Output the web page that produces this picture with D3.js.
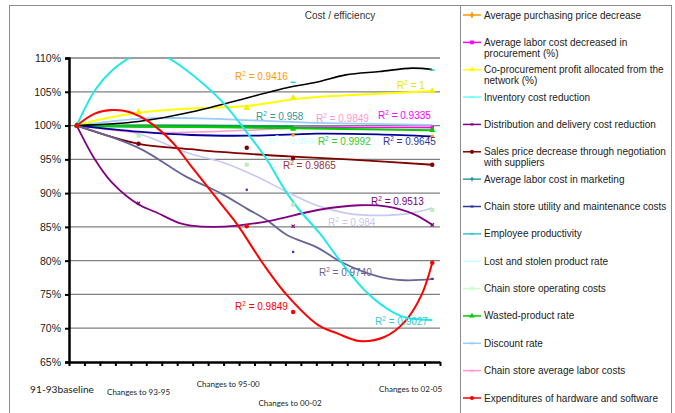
<!DOCTYPE html>
<html><head><meta charset="utf-8">
<script src="https://cdn.jsdelivr.net/npm/d3@7"></script>
<style>body{margin:0;background:#fff}svg{display:block}</style>
</head><body>
<svg id="c" width="675" height="413"></svg>
<script>
// ---------- data ----------
const yTicks = [65,70,75,80,85,90,95,100,105,110];
const xLabels = ["91-93baseline","Changes to 93-95","Changes to 95-00","Changes to 00-02","Changes to 02-05"];
const xLabelPos = [[-0.45,60.42],[4.5,60.12],[10.3,61.30],[14.3,58.49],[22.1,60.56]]; // [category, value] anchor
const legendNames = ["Average purchasing price decrease","Average labor cost decreased in|procurement (%)","Co-procurement profit allocated from the|network (%)","Inventory cost reduction","Distribution and delivery cost reduction","Sales price decrease through negotiation|with suppliers","Average labor cost in marketing","Chain store utility and maintenance costs","Employee productivity","Lost and stolen product rate","Chain store operating costs","Wasted-product rate","Discount rate","Chain store average labor costs","Expenditures of hardware and software"];
const legendColors = ["#FF9900","#FF00FF","#FFFF00","#66FFFF","#800080","#800000","#339999","#333399","#33CCCC","#CCFFFF","#CCFFCC","#00CC00","#99CCFF","#FF99CC","#FF0000"];
const legendMarks = ["diamond","square","triangle","x","x","circle","plus","dash","dash","x","square","triangle","x","x","circle"];

const lightBlueLine = [[0.5,100],[4.5,101.0],[7.9,101.1],[11.5,100.8],[16,100.4],[23.5,100.1]];
const tealLine = [[0.5,100],[4.5,100.1],[11.5,100.0],[14.5,99.9],[23.5,99.7]];
const pinkLine = [[0.5,100],[4.5,99.0],[11.5,99.3],[14.5,99.6],[23.5,99.9]];
const magentaLine = [[0.5,100],[11.5,99.8],[14.5,99.7],[23.5,99.7]];
const greenDarkLine = [[0.5,100],[4.5,99.9],[11.5,99.85],[14.5,99.8]];
const greenLine = [[0.5,100],[14.5,99.6],[23.5,99.3]];
const navyLine = [[0.5,100],[4.5,99.1],[7.9,98.6],[11.5,98.5],[14.5,98.7],[16,98.8],[20,98.7],[23.5,98.4]];
const darkRedLine = [[0.5,100],[4.5,97.3],[7.9,96.5],[9.8,96.1],[14.5,95.4],[18,95.0],[23.5,94.2]];
const lavenderLine = [[0.5,100],[4.5,98.8],[7.6,96.0],[10,94.5],[12,92.6],[14,90.3],[16,88.2],[18,87.0],[20,86.7],[22,87.0],[23.5,87.8]];
const slateLine = [[0.5,100],[4.5,96.7],[7.6,92.4],[9.8,90.0],[11.5,87.7],[12.8,86.0],[14.1,83.8],[16.1,81.9],[17.6,79.8],[20.1,77.6],[21.7,77.1],[23.6,77.3]];
const purpleLine = [[0.5,100],[1.7,94.9],[2.8,91.5],[4.5,88.3],[5.6,87.2],[7.1,85.6],[7.9,85.2],[9.3,85.0],[10.9,85.2],[13,85.9],[16.1,87.5],[18.8,88.2],[20.6,88.0],[22.3,86.9],[23.5,85.3]];
const yellowLine = [[0.5,100],[2,100.9],[4.5,101.9],[7.6,102.5],[11.5,102.9],[14.5,103.9],[16,104.2],[20,104.7],[23.5,105.1]];
const blackLine = [[0.5,100],[4.5,100.6],[7.9,102.0],[10.2,103.3],[14.1,105.6],[16,106.4],[17.9,107.5],[20.1,108.0],[22.2,108.5],[23.5,108.3]];
const redLine = [[0.5,100],[1.7,101.8],[2.8,102.3],[3.9,102.0],[5.2,100.5],[6.7,97.5],[7.9,94.0],[9.8,88.5],[10.9,85.3],[12.6,79.4],[14.1,74.9],[16.1,70.5],[17.4,69.2],[18.8,68.1],[20.4,68.7],[21.7,70.9],[22.8,74.9],[23.5,79.7]];
const cyanLine = [[0.5,100],[1.7,105.3],[2.8,108.2],[4.1,110.3],[5.1,111.5],[6.2,110.3],[7.3,108.7],[9.8,103.8],[11.5,99.0],[12.7,95.3],[14.1,90.0],[14.9,87.5],[16.2,84.1],[17.5,80.1],[19.3,75.2],[21.0,72.3],[21.9,71.5],[23.5,71.2]];

const redPts = [[0.5,100],[11.5,85.1],[14.5,72.4],[23.5,79.7]];
const darkRedPts = [[0.5,100],[4.5,97.3],[11.5,96.7],[14.5,95.2],[23.5,94.2]];
const yellowPts = [[4.5,102.0],[11.5,102.6],[14.5,104.1],[23.5,105.1]];
const orangePts = [[0.5,100],[14.5,98.6],[23.5,98.4]];
const magentaPts = [[0.5,100],[23.5,99.7]];
const greenPts = [[0.5,100],[14.5,99.5],[23.5,99.3]];
const paleGreenPts = [[4.5,98.5],[11.5,94.2],[14.5,88.3],[23.5,87.5]];
const bluePts = [[11.5,90.5],[14.5,81.3],[23.5,77.3]];
const purplePts = [[4.5,88.5],[14.5,85.1],[23.5,85.3]];
const cyanPts = [[14.5,106.4],[23.5,108.2]];

const r2Text = ["0.9416","1","0.958","0.9849","0.9335","0.9984","0.9992","0.9645","0.9865","0.9513","0.984","0.9740","0.9849","0.9027"];
const r2Colors = ["#FF9900","#E6E600","#339999","#FF99CC","#FF00FF","#CCFFFF","#33CC33","#333399","#993333","#800080","#C8C8F0","#666699","#FF0000","#33CCCC"];
const r2Pos = [[10.74,106.67],[21.22,105.34],[12.10,100.75],[15.98,100.60],[19.99,101.04],[12.9,97.34],[16.1,97.05],[20.31,97.05],[13.84,93.5],[19.54,88.17],[16.76,85.06],[16.17,77.66],[10.74,72.63],[19.80,70.55]];

// ---------- drawing ----------
const svg = d3.select("#c");
const x = d3.scaleLinear().domain([0,24]).range([69,440]);
const y = d3.scaleLinear().domain([65,110]).range([362,58]);
const F = "'Liberation Sans', Arial, sans-serif";

// frame
svg.append("rect").attr("x",9.5).attr("y",5.5).attr("width",662).attr("height",420).attr("fill","#fff").attr("stroke","#8c8c8c");
svg.append("rect").attr("x",460.5).attr("y",5.5).attr("width",211).attr("height",420).attr("fill","#fff").attr("stroke","#8c8c8c");

svg.append("text").attr("x",340).attr("y",19).attr("text-anchor","middle").attr("font-family",F).attr("font-size",10).attr("fill","#333").text("Cost / efficiency");

// gridlines
svg.append("g").selectAll("line").data(yTicks.slice(1)).join("line")
  .attr("x1",69).attr("x2",440).attr("y1",d=>y(d)).attr("y2",d=>y(d)).attr("stroke","#808080").attr("stroke-width",1.3);

// axes
const yAxis = svg.append("g").attr("transform","translate(69,0)")
  .call(d3.axisLeft(y).tickValues(yTicks).tickFormat(d=>d+"%").tickSize(4).tickPadding(4));
yAxis.select(".domain").attr("stroke","#000").attr("stroke-width",2.5);
yAxis.selectAll(".tick line").attr("stroke","#000").attr("stroke-width",2);
yAxis.selectAll("text").attr("font-family",F).attr("font-size",10.5).attr("fill","#222");

const xAxis = svg.append("g").attr("transform","translate(0,362)")
  .call(d3.axisBottom(x).tickValues(d3.range(25)).tickFormat("").tickSize(4).tickSizeOuter(0));
xAxis.select(".domain").attr("stroke","#000").attr("stroke-width",2.5);
xAxis.selectAll(".tick line").attr("stroke","#000").attr("stroke-width",2);

// x labels
svg.append("g").selectAll("text").data(xLabels).join("text")
  .attr("x",(d,i)=>x(xLabelPos[i][0])).attr("y",(d,i)=>y(xLabelPos[i][1]))
  .attr("text-anchor","middle").attr("font-family","Lato, 'Open Sans', sans-serif")
  .attr("font-size",(d,i)=>i===0?10.2:8).attr("fill","#222").text(d=>d);

// clip
svg.append("clipPath").attr("id","pc").append("rect").attr("x",69).attr("y",58).attr("width",375).attr("height",304);
const plot = svg.append("g").attr("clip-path","url(#pc)");
const line = d3.line().x(d=>x(d[0])).y(d=>y(d[1])).curve(d3.curveCatmullRom.alpha(0.5));

const lines = [
  [lavenderLine,"#C8C8F4",1.6],[lightBlueLine,"#99CCFF",1.8],[tealLine,"#6f9f9f",1.4],[pinkLine,"#FF99CC",1.5],
  [magentaLine,"#FF00FF",1.3],[greenDarkLine,"#00A040",2.8],[greenLine,"#00CC00",2],[navyLine,"#000099",1.8],
  [darkRedLine,"#800000",1.8],[slateLine,"#666699",1.8],[purpleLine,"#800080",1.8],[yellowLine,"#FFFF00",2],
  [blackLine,"#000",1.6],[redLine,"#FF0000",2],[cyanLine,"#22E8E8",2]
];
plot.selectAll("path.s").data(lines).join("path").attr("class","s")
  .attr("d",d=>line(d[0])).attr("fill","none").attr("stroke",d=>d[1]).attr("stroke-width",d=>d[2]);

// markers
function marks(g, pts, color, type, size){
  const sym = {circle:d3.symbolCircle,square:d3.symbolSquare,triangle:d3.symbolTriangle,diamond:d3.symbolDiamond,plus:d3.symbolCross};
  if(type==="dash"){
    g.selectAll(null).data(pts).join("line").attr("x1",d=>x(d[0])-2.5).attr("x2",d=>x(d[0])+2.5)
      .attr("y1",d=>y(d[1])).attr("y2",d=>y(d[1])).attr("stroke",color).attr("stroke-width",1.5);
  } else if(type==="x"){
    g.selectAll(null).data(pts).join("path").attr("d",d=>{const a=x(d[0]),b=y(d[1]),s=size;return `M${a-s},${b-s}L${a+s},${b+s}M${a-s},${b+s}L${a+s},${b-s}`;})
      .attr("stroke",color).attr("stroke-width",1.2).attr("fill","none");
  } else {
    g.selectAll(null).data(pts).join("path").attr("transform",d=>`translate(${x(d[0])},${y(d[1])})`)
      .attr("d",d3.symbol().type(sym[type]).size(size*size*3)).attr("fill",color);
  }
}
const mk = svg.append("g");
marks(mk.append("g"),paleGreenPts,"#B8F0B8","square",2.3);
marks(mk.append("g"),orangePts,"#FF9900","circle",1.8);
marks(mk.append("g"),magentaPts,"#FF00FF","square",2);
marks(mk.append("g"),greenPts,"#00CC00","triangle",2.3);
marks(mk.append("g"),yellowPts,"#F0F000","triangle",2.6);
marks(mk.append("g"),bluePts,"#3333CC","square",1.3);
marks(mk.append("g"),purplePts,"#800080","x",1.6);
marks(mk.append("g"),cyanPts,"#33CCCC","dash",2);
marks(mk.append("g"),darkRedPts,"#800000","circle",2.3);
marks(mk.append("g"),redPts,"#FF0000","circle",2.3);

// R² labels
const r2 = svg.append("g").selectAll("text").data(r2Text).join("text")
  .attr("x",(d,i)=>x(r2Pos[i][0])).attr("y",(d,i)=>y(r2Pos[i][1]))
  .attr("font-family",F).attr("font-size",(d,i)=>i===5?9.5:10).attr("fill",(d,i)=>r2Colors[i]);
r2.append("tspan").text("R");
r2.append("tspan").attr("dy",-4).attr("font-size",6.5).text("2");
r2.append("tspan").attr("dy",4).text(d=>" = "+d);

// legend
const lg = svg.append("g");
const rowY = d3.scaleLinear().domain([0,14]).range([15,398]);
legendNames.forEach((name,i)=>{
  const cy = rowY(i);
  const col = legendColors[i];
  lg.append("line").attr("x1",463).attr("x2",481).attr("y1",cy).attr("y2",cy).attr("stroke",col).attr("stroke-width",1.5);
  const gm = lg.append("g");
  const t = legendMarks[i];
  const sym = {circle:d3.symbolCircle,square:d3.symbolSquare,triangle:d3.symbolTriangle,diamond:d3.symbolDiamond,plus:d3.symbolCross};
  if(t==="x"||t==="dash"){
    gm.append("rect").attr("x",470.5).attr("y",cy-1).attr("width",3).attr("height",2).attr("fill",col);
  } else {
    gm.append("path").attr("transform",`translate(472,${cy})`).attr("d",d3.symbol().type(sym[t]).size(t==="plus"?10:14)).attr("fill",col);
  }
  const parts = name.split("|");
  parts.forEach((p,k)=>{
    lg.append("text").attr("x",484).attr("y",cy+3.5+k*11).attr("font-family",F).attr("font-size",10).attr("fill","#222").text(p);
  });
});
</script>
</body></html>
